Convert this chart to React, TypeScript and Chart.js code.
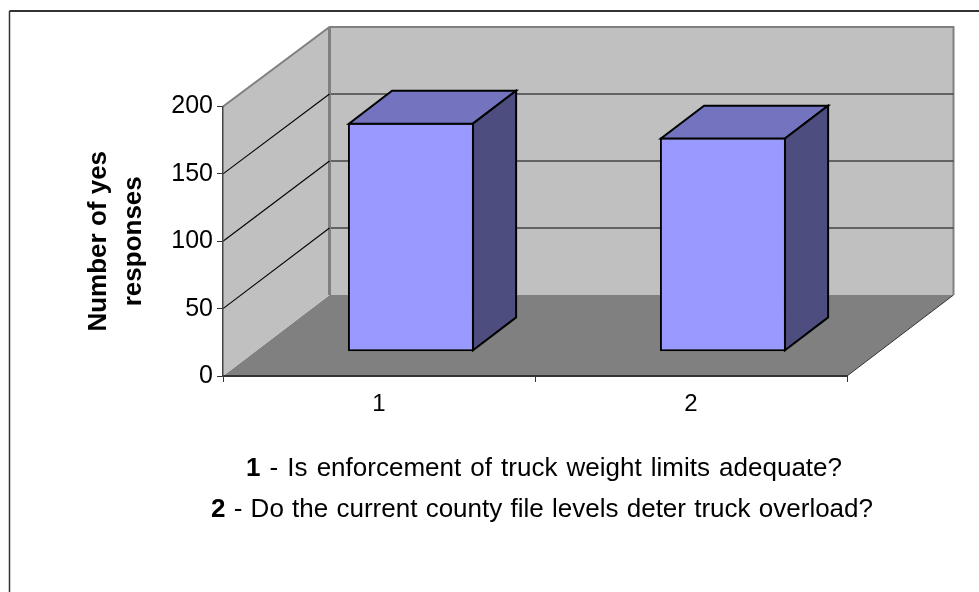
import React, { useEffect, useRef } from "react";
import { Chart, registerables } from "chart.js";

Chart.register(...registerables);

const categories = ["1", "2"];
const yesResponses = [170, 159];
const yTicks = [0, 50, 100, 150, 200];
const axisTitle = ["Number of yes", "responses"];
const noteNumbers = ["1", "2"];
const noteTexts = [
  "- Is enforcement of truck weight limits adequate?",
  "- Do the current county file levels deter truck overload?",
];

const FONT = "'Liberation Sans', Arial, sans-serif";
const DEPTH = { x: 106.5, y: -81 };
const BACK_SHRINK = 1.5;
const BAR_OFFSET = 0.3;
const BAR_DEPTH = 0.405;

const threeD = {
  id: "threeD",
  beforeDraw(chart: any) {
    const { ctx, chartArea: a, scales } = chart;
    const y = scales.y;
    const { left: l, right: r, top: t, bottom: b } = a;
    const dx = DEPTH.x;
    const dy = DEPTH.y;
    const backY = (py: number) => py + dy + ((b - py) / (b - t)) * BACK_SHRINK;
    ctx.save();
    // frame
    ctx.strokeStyle = "#333333";
    ctx.lineWidth = 2;
    ctx.beginPath();
    ctx.moveTo(979, 11);
    ctx.lineTo(9.5, 11);
    ctx.stroke();
    ctx.lineWidth = 1.5;
    ctx.beginPath();
    ctx.moveTo(9.5, 11);
    ctx.lineTo(9.5, 592);
    ctx.stroke();
    // floor
    ctx.fillStyle = "#808080";
    ctx.beginPath();
    ctx.moveTo(l, b);
    ctx.lineTo(r, b);
    ctx.lineTo(r + dx, b + dy);
    ctx.lineTo(l + dx, b + dy);
    ctx.closePath();
    ctx.fill();
    // side wall
    ctx.fillStyle = "#c0c0c0";
    ctx.beginPath();
    ctx.moveTo(l, b);
    ctx.lineTo(l, t);
    ctx.lineTo(l + dx, backY(t));
    ctx.lineTo(l + dx, b + dy);
    ctx.closePath();
    ctx.fill();
    // back wall
    ctx.fillRect(l + dx, backY(t), r - l, b + dy - backY(t));
    // wall edges
    ctx.strokeStyle = "#808080";
    ctx.lineWidth = 2;
    ctx.beginPath();
    ctx.moveTo(l, t);
    ctx.lineTo(l + dx, backY(t));
    ctx.lineTo(r + dx, backY(t));
    ctx.lineTo(r + dx, b + dy);
    ctx.stroke();
    ctx.lineWidth = 3;
    ctx.beginPath();
    ctx.moveTo(l + dx, backY(t));
    ctx.lineTo(l + dx, b + dy);
    ctx.stroke();
    // floor front-right edge
    ctx.strokeStyle = "#333333";
    ctx.lineWidth = 1;
    ctx.beginPath();
    ctx.moveTo(r, b);
    ctx.lineTo(r + dx, b + dy);
    ctx.stroke();
    // gridlines
    for (const tk of y.ticks) {
      if (tk.value === 0) continue;
      const py = y.getPixelForValue(tk.value);
      ctx.strokeStyle = "#000000";
      ctx.lineWidth = 1.1;
      if (tk.value !== yTicks[yTicks.length - 1]) {
        ctx.beginPath();
        ctx.moveTo(l, py);
        ctx.lineTo(l + dx, backY(py));
        ctx.stroke();
        ctx.strokeStyle = "#444444";
        ctx.lineWidth = 1.5;
        ctx.beginPath();
        ctx.moveTo(l + dx + 1.5, backY(py));
        ctx.lineTo(r + dx, backY(py));
        ctx.stroke();
      }
    }
    ctx.restore();
  },
  beforeDatasetsDraw(chart: any) {
    chart.ctx.save();
    chart.ctx.translate(DEPTH.x * BAR_OFFSET, DEPTH.y * BAR_OFFSET);
  },
  afterDatasetsDraw(chart: any) {
    const { ctx } = chart;
    const ddx = DEPTH.x * BAR_DEPTH;
    const ddy = DEPTH.y * BAR_DEPTH;
    chart.getDatasetMeta(0).data.forEach((bar: any) => {
      const { x, y, base, width } = bar.getProps(["x", "y", "base", "width"], true);
      const xl = x - width / 2 + 1;
      const xr = x + width / 2 - 1;
      const yt = y + 1;
      const yb = base - 1;
      ctx.strokeStyle = "#000000";
      ctx.lineWidth = 2;
      ctx.lineJoin = "miter";
      ctx.fillStyle = "#7373bf";
      ctx.beginPath();
      ctx.moveTo(xl, yt);
      ctx.lineTo(xr, yt);
      ctx.lineTo(xr + ddx, yt + ddy);
      ctx.lineTo(xl + ddx, yt + ddy);
      ctx.closePath();
      ctx.fill();
      ctx.stroke();
      ctx.fillStyle = "#4d4d80";
      ctx.beginPath();
      ctx.moveTo(xr, yt);
      ctx.lineTo(xr + ddx, yt + ddy);
      ctx.lineTo(xr + ddx, yb + ddy);
      ctx.lineTo(xr, yb);
      ctx.closePath();
      ctx.fill();
      ctx.stroke();
    });
    ctx.restore();
  },
  afterDraw(chart: any) {
    const { ctx } = chart;
    ctx.save();
    ctx.fillStyle = "#000000";
    ctx.textBaseline = "alphabetic";
    const starts = [246, 211];
    const ends = [842, 873];
    const bases = [476, 517];
    noteTexts.forEach((txt, i) => {
      ctx.font = `bold 26px ${FONT}`;
      ctx.fillText(noteNumbers[i], starts[i], bases[i]);
      const numW = ctx.measureText(noteNumbers[i]).width;
      ctx.font = `26px ${FONT}`;
      const words = txt.split(" ");
      const wordsW = words.reduce((s, w) => s + ctx.measureText(w).width, 0);
      // spread the words so the line spans the same width as in the picture
      const gap = (ends[i] - starts[i] - numW - wordsW) / words.length;
      let x = starts[i] + numW + gap;
      words.forEach((w) => {
        ctx.fillText(w, x, bases[i]);
        x += ctx.measureText(w).width + gap;
      });
    });
    ctx.restore();
  },
};

export default function App() {
  const ref = useRef<HTMLCanvasElement>(null);
  useEffect(() => {
    const chart = new Chart(ref.current!, {
      type: "bar",
      data: {
        labels: categories,
        datasets: [
          {
            data: yesResponses,
            backgroundColor: "#9999ff",
            borderColor: "#000000",
            borderWidth: 2,
            borderSkipped: false,
            categoryPercentage: 0.404,
            barPercentage: 1,
          },
        ],
      },
      plugins: [threeD],
      options: {
        responsive: false,
        animation: false,
        layout: { padding: { left: 70, top: 106.5, right: 132, bottom: 160 } },
        plugins: { legend: { display: false }, tooltip: { enabled: false }, title: { display: false } },
        scales: {
          x: {
            afterFit: (s: any) => {
              s.height = 592 - 376 - 160;
            },
            grid: { drawOnChartArea: false, drawTicks: true, tickLength: 6, color: "#333333", lineWidth: 1 },
            border: { color: "#333333", width: 2 },
            ticks: { color: "#000000", font: { family: FONT, size: 24 }, padding: 8 },
          },
          y: {
            min: 0,
            max: 200,
            afterFit: (s: any) => {
              s.width = 223 - 70;
            },
            afterBuildTicks: (s: any) => {
              s.ticks = yTicks.map((value) => ({ value }));
            },
            grid: { drawOnChartArea: false, drawTicks: true, tickLength: 6, color: "#333333", lineWidth: 1 },
            border: { color: "#444444", width: 1.5 },
            ticks: { color: "#000000", font: { family: FONT, size: 25 }, padding: 4 },
            title: {
              display: true,
              text: axisTitle,
              color: "#000000",
              font: { family: FONT, size: 26, weight: "bold", lineHeight: 1.33 },
              padding: { top: 12, bottom: 0 },
            },
          },
        },
      },
    } as any);
    return () => chart.destroy();
  }, []);
  return (
    <canvas
      ref={ref}
      width={979}
      height={592}
      style={{ position: "fixed", left: 0, top: 0, width: 979, height: 592, display: "block", background: "#ffffff" }}
    />
  );
}
